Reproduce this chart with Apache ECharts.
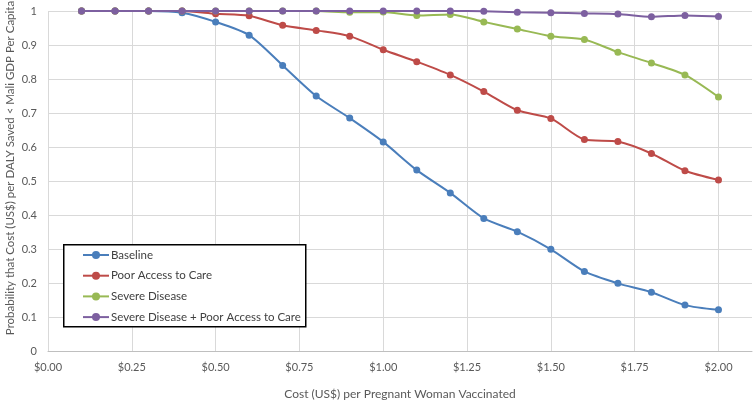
<!DOCTYPE html>
<html>
<head>
<meta charset="utf-8">
<script src="https://cdn.jsdelivr.net/npm/echarts@6/dist/echarts.min.js"></script>
<style>html,body{margin:0;padding:0;background:#fff;}#c{width:755px;height:404px;}</style>
</head>
<body>
<div id="c"></div>
<script>
const costs = [0.1,0.2,0.3,0.4,0.5,0.6,0.7,0.8,0.9,1.0,1.1,1.2,1.3,1.4,1.5,1.6,1.7,1.8,1.9,2.0];
const baseline = [1,1,1,0.995,0.968,0.929,0.840,0.750,0.685,0.615,0.532,0.465,0.390,0.351,0.299,0.234,0.199,0.173,0.135,0.121];
const poorAccess = [1,1,1,1,0.992,0.986,0.958,0.943,0.926,0.886,0.851,0.812,0.763,0.708,0.684,0.622,0.616,0.581,0.530,0.503];
const severe = [1,1,1,1,1,1,1,1,0.996,0.997,0.987,0.990,0.968,0.947,0.926,0.916,0.879,0.847,0.812,0.747];
const severePoor = [1,1,1,1,1,1,1,1,1,1,1,1,0.999,0.996,0.995,0.993,0.991,0.983,0.987,0.984];
const seriesNames = ['Baseline','Poor Access to Care','Severe Disease','Severe Disease + Poor Access to Care'];
const colors = ['#4a7ebb','#be4b48','#98b954','#7d60a0'];
const xTitle = 'Cost (US$) per Pregnant Woman Vaccinated';
const yTitle = 'Probability that Cost (US$) per DALY Saved < Mali GDP Per Capita';

const font = 'Lato, "Open Sans", sans-serif';
const allData = [baseline, poorAccess, severe, severePoor];
const chart = echarts.init(document.getElementById('c'));
const gridCol = '#d9d9d9';
chart.setOption({
  animation: false,
  textStyle: {fontFamily: font},
  grid: {left: 48, right: 3, top: 11, bottom: 53, containLabel: false, outerBoundsMode: 'none'},
  graphic: [{
    type: 'rect', left: 63, top: 244, z: 5,
    shape: {width: 242, height: 82},
    style: {fill: '#fff', stroke: '#000', lineWidth: 1.5}
  }, {
    type: 'text', x: 10, y: 168, rotation: Math.PI / 2, z: 5,
    style: {text: yTitle, fill: '#595959', font: '11.5px ' + font, align: 'center', verticalAlign: 'middle'}
  }],
  legend: {
    orient: 'vertical', left: 82, top: 249, z: 10, padding: 0,
    itemWidth: 26, itemHeight: 10, itemGap: 8.7,
    textStyle: {fontFamily: font, fontSize: 11.5, color: '#404040', padding: [0,0,0,-3]},
    data: seriesNames
  },
  xAxis: {
    type: 'value', min: 0, max: 2.1, interval: 0.25,
    name: xTitle, nameLocation: 'middle', nameGap: 37,
    nameTextStyle: {fontFamily: font, fontSize: 12, color: '#595959'},
    axisLine: {show: true, lineStyle: {color: '#bfbfbf', width: 1}},
    axisTick: {show: false},
    axisLabel: {
      color: '#595959', fontSize: 11, fontFamily: font, margin: 11, showMaxLabel: false,
      formatter: v => (Math.abs(v/0.25 - Math.round(v/0.25)) < 1e-6) ? '$' + v.toFixed(2) : ''
    },
    splitLine: {show: true, lineStyle: {color: [gridCol,gridCol,gridCol,gridCol,gridCol,gridCol,gridCol,gridCol,gridCol,'rgba(0,0,0,0)'], width: 1}}
  },
  yAxis: {
    type: 'value', min: 0, max: 1, interval: 0.1,
    axisLine: {show: false}, axisTick: {show: false},
    axisLabel: {color: '#595959', fontSize: 11, fontFamily: font, margin: 11,
      formatter: v => String(Math.round(v*10)/10)},
    splitLine: {show: true, lineStyle: {color: gridCol, width: 1}}
  },
  series: seriesNames.map((n, i) => ({
    name: n, type: 'line', smooth: 0.25,
    data: costs.map((c, j) => [c, allData[i][j]]),
    symbol: 'circle', symbolSize: 7,
    lineStyle: {color: colors[i], width: 2},
    itemStyle: {color: colors[i]},
    z: 2 + i
  }))
});
</script>
</body>
</html>
